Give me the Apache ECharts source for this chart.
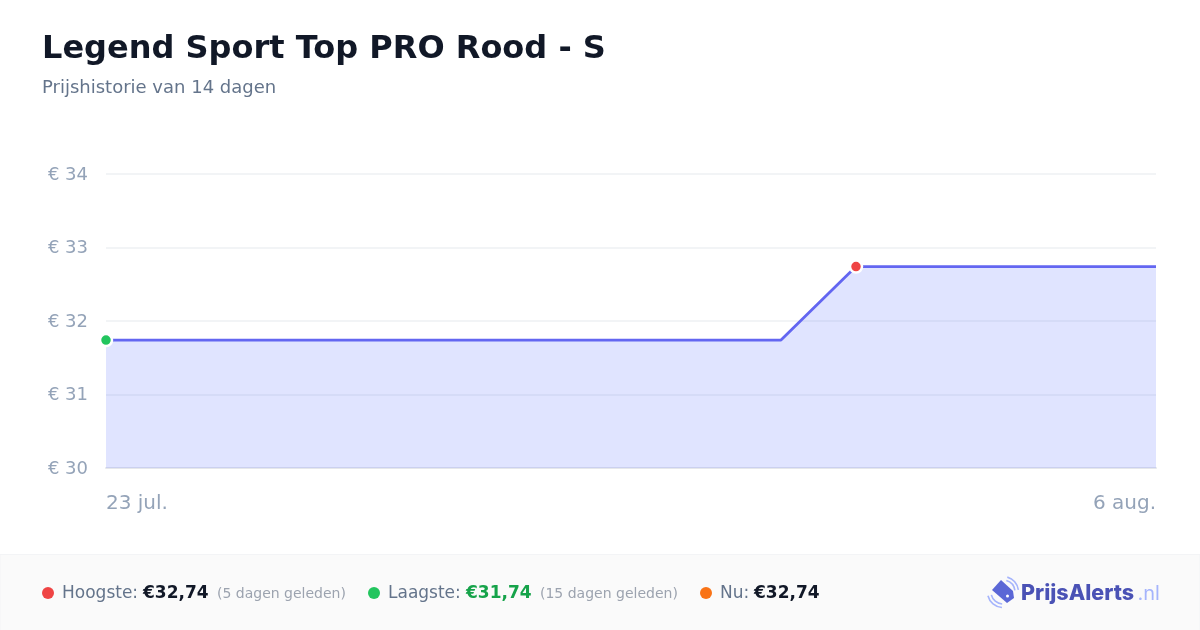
<!DOCTYPE html>
<html><head><meta charset="utf-8">
<style>html,body{margin:0;padding:0;background:#fff}#c{width:1200px;height:630px}</style>
<script src="https://cdn.jsdelivr.net/npm/echarts@6/dist/echarts.min.js"></script>
</head><body><div id="c"></div>
<script>
const categories = ['23 jul.','24 jul.','25 jul.','26 jul.','27 jul.','28 jul.','29 jul.','30 jul.','31 jul.','1 aug.','2 aug.','3 aug.','4 aug.','5 aug.','6 aug.'];
const prices = [31.74,31.74,31.74,31.74,31.74,31.74,31.74,31.74,31.74,31.74,32.74,32.74,32.74,32.74,32.74];
const markerColours = {0:'#22c55e',10:'#ef4444'};
const yTicks = {min:30,max:34,interval:1};
const titleText = 'Legend Sport Top PRO Rood - S';
const subtitleText = 'Prijshistorie van 14 dagen';
const F = '"DejaVu Sans"';

const chart = echarts.init(document.getElementById('c'),null,{renderer:'canvas'});
function t(x,y,text,size,fill,weight,align,font){
  return {type:'text',x:x,y:y,silent:true,style:{text:text,font:(weight||'normal')+' '+size+'px '+(font||F),fill:fill,textAlign:align||'left',textVerticalAlign:'middle'}};
}
function dot(cx,cy,fill){return {type:'circle',shape:{cx:cx,cy:cy,r:6},style:{fill:fill},silent:true};}
function arc(cx,cy,r,a,b){return {type:'arc',shape:{cx:cx,cy:cy,r:r,startAngle:a,endAngle:b,clockwise:true},style:{stroke:'#a5b4fc',fill:null,lineWidth:1.6},silent:true};}
chart.setOption({
  animation:false,
  backgroundColor:'#ffffff',
  grid:{left:106,right:44,top:174,bottom:162,containLabel:false},
  xAxis:{type:'category',boundaryGap:false,data:categories,
    axisLine:{show:true,lineStyle:{color:'#e5e7eb',width:2}},axisTick:{show:false},splitLine:{show:false},
    axisLabel:{color:'#94a3b8',fontFamily:F,fontSize:20,margin:26,alignMinLabel:'left',alignMaxLabel:'right',
      interval:function(i){return i===0||i===categories.length-1;}}},
  yAxis:{type:'value',min:yTicks.min,max:yTicks.max,interval:yTicks.interval,
    axisLine:{show:false},axisTick:{show:false},
    splitLine:{lineStyle:{color:'#eef0f3',width:1.5}},
    axisLabel:{color:'#94a3b8',fontFamily:F,fontSize:18,margin:18,verticalAlign:'top',lineHeight:2,formatter:'€ {value}'}},
  series:[{type:'line',z:3,showSymbol:true,showAllSymbols:true,
    data:prices.map(function(v,i){
      const c=markerColours[i];
      return c?{value:v,symbol:'circle',symbolSize:12,itemStyle:{color:c,borderColor:'#fff',borderWidth:2.5}}:{value:v,symbol:'none'};
    }),
    lineStyle:{color:'#6366f1',width:2.8},
    areaStyle:{color:'#6478ff',opacity:0.2}}],
  graphic:[
    t(42,50,titleText,32,'#111827','bold'),
    t(42,88,subtitleText,18,'#64748b'),
    {type:'rect',shape:{x:0,y:554.5,width:1200,height:76},style:{fill:'#fafafa',stroke:'#f3f4f6',lineWidth:1},silent:true},
    dot(48,593,'#ef4444'),
    t(62,594,'Hoogste:',17,'#64748b'),
    t(143,594,'€32,74',17,'#111827','bold'),
    t(217,594,'(5 dagen geleden)',14,'#9ca3af'),
    dot(374,593,'#22c55e'),
    t(388,594,'Laagste:',17,'#64748b'),
    t(466,594,'€31,74',17,'#16a34a','bold'),
    t(540,594,'(15 dagen geleden)',14,'#9ca3af'),
    dot(706,593,'#f97316'),
    t(720,594,'Nu:',17,'#64748b'),
    t(754,594,'€32,74',17,'#111827','bold'),
    {type:'polygon',shape:{points:[[992,590],[1001,580],[1013,591],[1014,598],[1007,603]]},style:{fill:'#5b67d6'},silent:true},
    {type:'circle',shape:{cx:1007.5,cy:596,r:1.5},style:{fill:'#fff'},silent:true},
    arc(1003,592,12,-1.29,-0.14),
    arc(1003,592,15.5,-1.29,-0.14),
    arc(1003,592,12,1.64,2.9),
    arc(1003,592,15.5,1.64,2.9),
    t(1021,593.5,'PrijsAlerts',21.5,'#4a52b5','800','left','Inter'),
    t(1137.5,593.5,'.nl',20,'#a5b4fc','normal','left','Inter')
  ]
});
</script></body></html>
